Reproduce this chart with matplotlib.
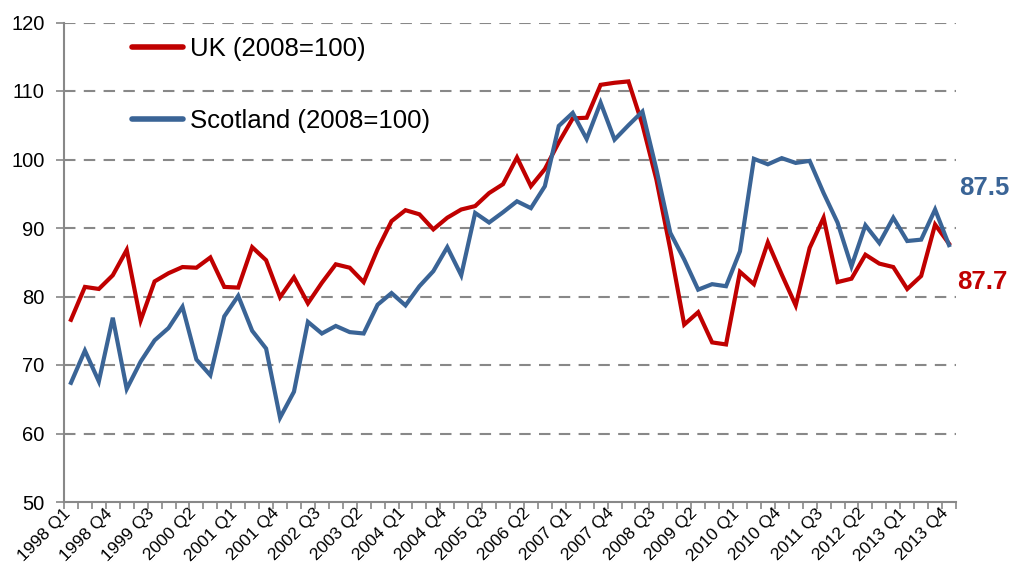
import matplotlib
matplotlib.use("Agg")
import matplotlib.pyplot as plt
from matplotlib.ticker import FixedLocator
from matplotlib.transforms import ScaledTranslation

plt.rcParams['font.family'] = ['Liberation Sans', 'DejaVu Sans']

years = list(range(1998, 2014))
quarters = ["Q1", "Q2", "Q3", "Q4"]
categories = [f"{y} {q}" for y in years for q in quarters]

uk = [76.6, 81.4, 81.1, 83.1, 86.8, 76.5, 82.2, 83.4, 84.3, 84.2,
      85.7, 81.4, 81.3, 87.2, 85.3, 79.9, 82.8, 79.0, 82.0, 84.7,
      84.2, 82.1, 86.9, 91.0, 92.6, 92.0, 89.8, 91.5, 92.7, 93.2,
      95.1, 96.4, 100.3, 96.1, 98.6, 102.5, 106.0, 106.1, 110.9, 111.2,
      111.4, 105.1, 97.1, 86.9, 75.9, 77.7, 73.3, 73.0, 83.6, 81.8,
      87.9, 83.2, 78.7, 87.1, 91.5, 82.1, 82.6, 86.1, 84.8, 84.3,
      81.1, 83.0, 90.5, 87.7]

scotland = [67.4, 72.1, 67.6, 76.9, 66.5, 70.5, 73.6, 75.4, 78.5, 70.8,
            68.5, 77.1, 80.1, 75.0, 72.4, 62.3, 66.1, 76.3, 74.6, 75.7,
            74.8, 74.6, 78.8, 80.5, 78.7, 81.5, 83.7, 87.2, 83.1, 92.2,
            90.8, 92.3, 93.9, 92.9, 96.1, 104.9, 106.8, 103.0, 108.3, 102.9,
            105.0, 107.0, 98.6, 89.3, 85.4, 81.0, 81.8, 81.5, 86.6, 100.1,
            99.3, 100.2, 99.5, 99.8, 95.1, 90.8, 84.4, 90.4, 87.8, 91.5,
            88.1, 88.3, 92.7, 87.5]

series_labels = ["UK (2008=100)", "Scotland (2008=100)"]
end_labels = ["87.7", "87.5"]
y_ticks = [50, 60, 70, 80, 90, 100, 110, 120]

red = "#C00000"
blue = "#3A6496"
grey = "#888888"

fig = plt.figure(figsize=(10.10, 5.67), dpi=100)
ax = fig.add_axes([64/1010, 1-502/567, 892/1010, 479.5/567])

x = list(range(len(categories)))
ax.plot(x, uk, color=red, lw=3.0, solid_joinstyle='miter', label=series_labels[0], zorder=3)
ax.plot(x, scotland, color=blue, lw=3.0, solid_joinstyle='miter', label=series_labels[1], zorder=3)

ax.set_xlim(-0.5, len(categories) - 0.5)
ax.set_ylim(50, 120)

# y axis
ax.set_yticks(y_ticks)
ax.set_yticklabels([str(v) for v in y_ticks], fontsize=14.5, color='black')
ax.tick_params(axis='y', direction='out', length=6, width=1.2, color=grey, pad=8)
for v in y_ticks[1:]:
    ax.axhline(v, color=grey, lw=1.5, ls=(0, (5.5, 4)), zorder=1)

# x axis
label_idx = list(range(0, len(categories), 3))
ax.xaxis.set_major_locator(FixedLocator(label_idx))
ax.set_xticklabels([categories[i] for i in label_idx], rotation=45, ha='right', va='center',
                   rotation_mode='anchor', fontsize=12.5, color='black')
ax.xaxis.set_minor_locator(FixedLocator([i - 0.5 for i in range(len(categories) + 1)]))
ax.tick_params(axis='x', which='major', length=0, pad=6.5)
ax.tick_params(axis='x', which='minor', direction='out', length=5, width=1.2, color=grey)
shift = ScaledTranslation(-3/100, 0, fig.dpi_scale_trans)
for lbl in ax.get_xticklabels():
    lbl.set_transform(lbl.get_transform() + shift)

for s in ['top', 'right']:
    ax.spines[s].set_visible(False)
for s in ['left', 'bottom']:
    ax.spines[s].set_color(grey)
    ax.spines[s].set_linewidth(1.5)

# end labels
ax.annotate(end_labels[1], xy=(len(categories) - 1, 95.8), xytext=(7, 0),
            textcoords='offset points', color=blue, fontsize=18.5, fontweight='bold',
            va='center', ha='left', annotation_clip=False)
ax.annotate(end_labels[0], xy=(len(categories) - 1, 82.1), xytext=(6, 0),
            textcoords='offset points', color=red, fontsize=18.5, fontweight='bold',
            va='center', ha='left', annotation_clip=False)

leg = ax.legend(loc='upper left', bbox_to_anchor=(0.076, 0.969), frameon=False,
                fontsize=18.5, handlelength=2.0, handletextpad=0.25,
                labelspacing=1.85, borderpad=0, borderaxespad=0)
for h in leg.get_lines():
    h.set_linewidth(4)
    h.set_solid_capstyle('round')

fig.savefig("out.png", dpi=100)
